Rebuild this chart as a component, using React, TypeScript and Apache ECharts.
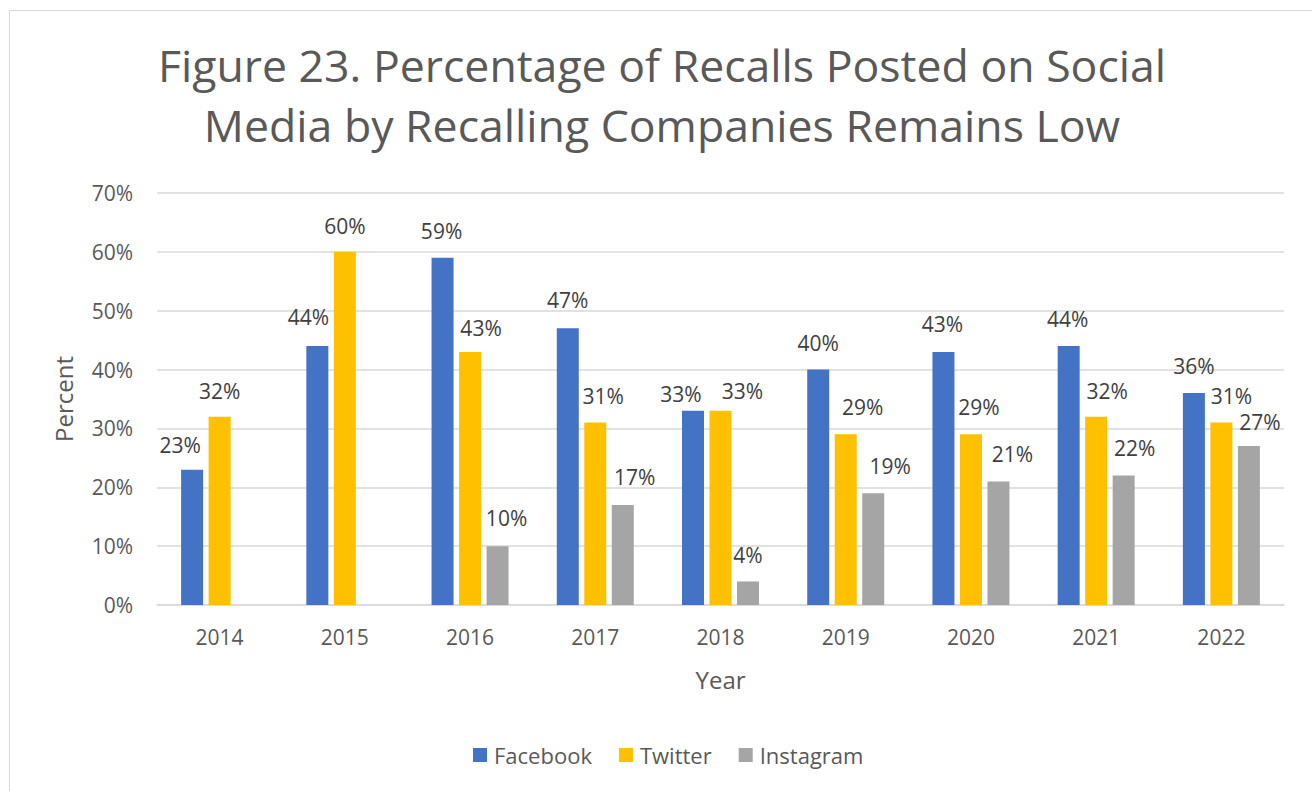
import React, { useEffect, useRef } from "react";
import * as echarts from "echarts";

const years = ["2014", "2015", "2016", "2017", "2018", "2019", "2020", "2021", "2022"];
const facebook = [23, 44, 59, 47, 33, 40, 43, 44, 36];
const twitter = [32, 60, 43, 31, 33, 29, 29, 32, 31];
const instagram: (number | null)[] = [null, null, 10, 17, 4, 19, 21, 22, 27];
const yTicks = [0, 10, 20, 30, 40, 50, 60, 70];

// label nudges (px) mimicking Excel's label placement
const fbNudge = [[-12, 2], [-9, -2], [-1, 0], [0, -1], [-12, 10], [0, 0], [-1, -1], [-1, 0], [0, 0]];
const twNudge = [[0, 1], [0, 1], [11, 3], [8, 0], [22, 7], [17, 0], [8, 0], [11, 1], [10, 0]];
const igNudge = [[0, 0], [0, 0], [9, -1], [12, -1], [0, 1], [17, 0], [14, 0], [11, -1], [11, 3]];

const FONT = "'Open Sans', 'Noto Sans', sans-serif";

function build(values: (number | null)[], nudge: number[][]) {
  return values.map((v, i) =>
    v === null ? null : { value: v, label: { offset: nudge[i] } }
  );
}

export default function App() {
  const ref = useRef<HTMLDivElement>(null);
  useEffect(() => {
    document.body.style.margin = "0";
    const chart = echarts.init(ref.current!, null, { renderer: "svg" });
    const labelCfg = {
      show: true,
      position: "top",
      distance: 16,
      color: "#404040",
      fontFamily: FONT,
      fontSize: 21,
      lineHeight: 22,
      formatter: (p: any) => p.value + "%",
    };
    chart.setOption({
      animation: false,
      backgroundColor: "#ffffff",
      color: ["#4472C4", "#FFC000", "#A5A5A5"],
      textStyle: { fontFamily: FONT },
      graphic: [
        {
          type: "rect",
          shape: { x: 9.5, y: 10.5, width: 1400, height: 1000 },
          style: { fill: "none", stroke: "#d9d9d9", lineWidth: 1 },
          silent: true,
        },
        {
          type: "text",
          x: 662,
          y: 34,
          style: {
            text: "Figure 23. Percentage of Recalls Posted on Social\nMedia by Recalling Companies Remains Low",
            fontFamily: FONT,
            fontSize: 44.6,
            lineHeight: 60,
            fill: "#595959",
            textAlign: "center",
            textVerticalAlign: "top",
          },
        },
      ],
      grid: { left: 157, right: 28, top: 193, bottom: 186, containLabel: false },
      legend: {
        top: 739,
        left: 468,
        itemWidth: 14,
        itemHeight: 14,
        itemGap: 27,
        icon: "rect",
        textStyle: { color: "#595959", fontSize: 22, fontFamily: FONT, padding: [0, 0, 0, 2] },
        data: ["Facebook", "Twitter", "Instagram"],
      },
      xAxis: {
        type: "category",
        data: years,
        name: "Year",
        nameLocation: "middle",
        nameGap: 62,
        nameTextStyle: { color: "#595959", fontSize: 24, fontFamily: FONT },
        axisLine: { lineStyle: { color: "#d9d9d9", width: 1.5 } },
        axisTick: { show: false },
        axisLabel: { color: "#595959", fontSize: 21, margin: 21, fontFamily: FONT },
      },
      yAxis: {
        type: "value",
        min: yTicks[0],
        max: yTicks[yTicks.length - 1],
        interval: 10,
        name: "Percent",
        nameLocation: "middle",
        nameGap: 82,
        nameRotate: 90,
        nameTextStyle: { color: "#595959", fontSize: 24, fontFamily: FONT },
        axisLine: { show: false },
        axisTick: { show: false },
        splitLine: { lineStyle: { color: "#d9d9d9", width: 1.5 } },
        axisLabel: {
          color: "#595959",
          fontSize: 21,
          margin: 24,
          fontFamily: FONT,
          formatter: (v: number) => v + "%",
        },
      },
      series: [
        { name: "Facebook", type: "bar", barWidth: 22, barGap: "25%", data: build(facebook, fbNudge), label: labelCfg },
        { name: "Twitter", type: "bar", barWidth: 22, barGap: "25%", data: build(twitter, twNudge), label: labelCfg },
        { name: "Instagram", type: "bar", barWidth: 22, barGap: "25%", data: build(instagram, igNudge), label: labelCfg },
      ],
    });
    return () => chart.dispose();
  }, []);
  return (
    <div
      ref={ref}
      style={{ position: "fixed", left: 0, top: 0, width: 1312, height: 791 }}
    />
  );
}
